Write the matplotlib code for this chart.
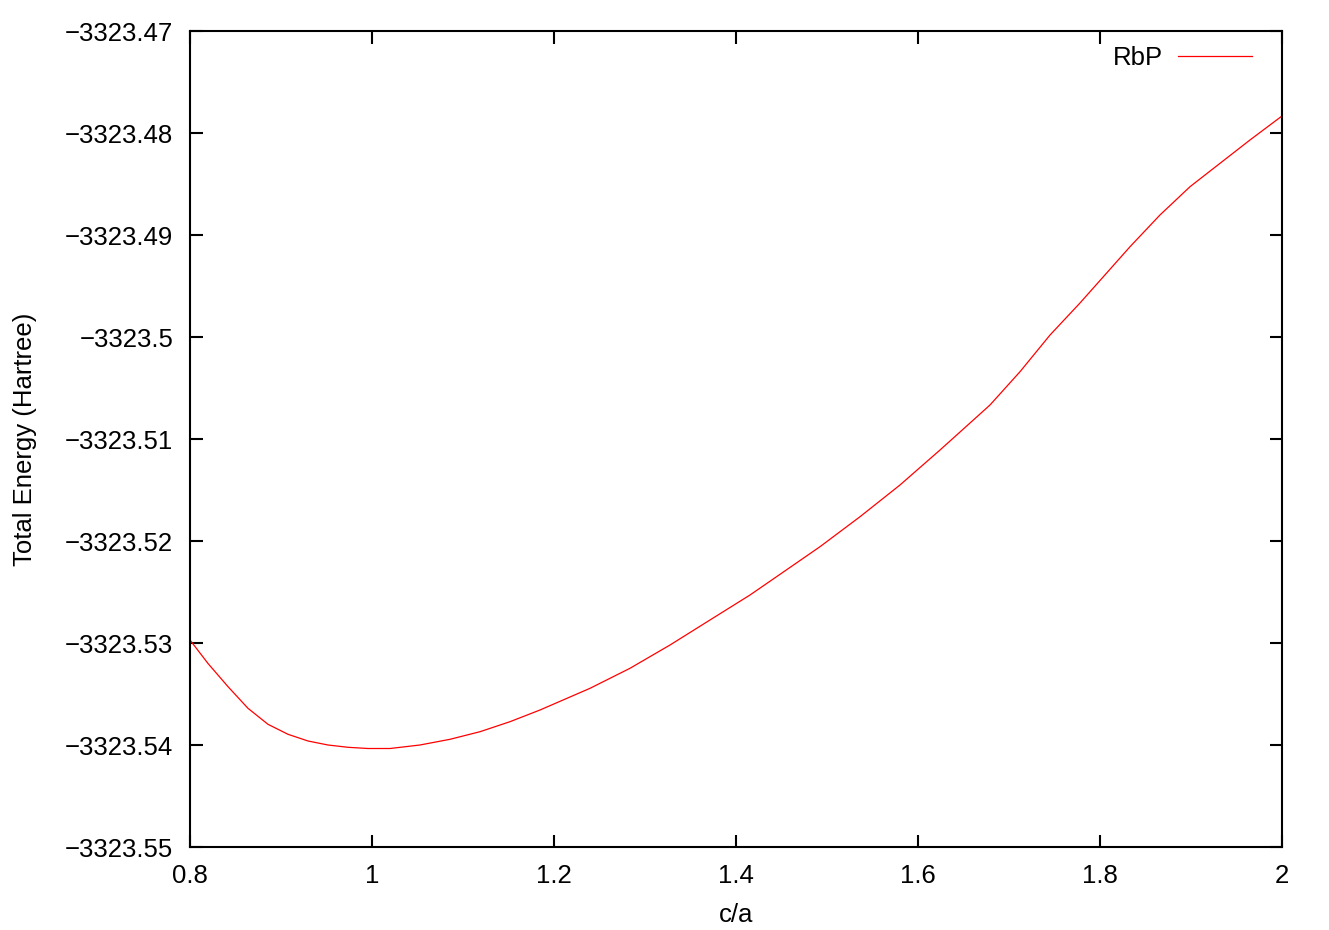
import matplotlib
matplotlib.use("Agg")
import matplotlib.pyplot as plt
from matplotlib.ticker import FuncFormatter, MultipleLocator

# Data
c_over_a = [0.8000, 0.8198, 0.8418, 0.8637, 0.8857, 0.9077, 0.9297, 0.9516,
            0.9736, 0.9956, 1.0198, 1.0527, 1.0857, 1.1187, 1.1516, 1.1846,
            1.2396, 1.2835, 1.3275, 1.3714, 1.4154, 1.4484, 1.4923, 1.5363,
            1.5802, 1.6242, 1.6462, 1.6791, 1.7121, 1.7451, 1.7780, 1.8000,
            1.8330, 1.8659, 1.8989, 1.9319, 1.9648, 2.0000]
energy = [-3323.529706, -3323.532010, -3323.534284, -3323.536402, -3323.537971,
          -3323.538951, -3323.539608, -3323.540000, -3323.540225, -3323.540343,
          -3323.540343, -3323.540000, -3323.539441, -3323.538696, -3323.537716,
          -3323.536569, -3323.534441, -3323.532480, -3323.530196, -3323.527745,
          -3323.525294, -3323.523265, -3323.520559, -3323.517618, -3323.514510,
          -3323.511078, -3323.509314, -3323.506667, -3323.503402, -3323.499804,
          -3323.496667, -3323.494461, -3323.491147, -3323.488039, -3323.485265,
          -3323.482971, -3323.480686, -3323.478333]
series_label = "RbP"

plt.rcParams['font.family'] = ['Liberation Sans', 'DejaVu Sans']
plt.rcParams['axes.unicode_minus'] = True

fig = plt.figure(figsize=(13.29, 9.30), dpi=100)
ax = fig.add_axes([190/1329, 83/930, (1282-190)/1329, (847-31)/930])

ax.plot(c_over_a, energy, color='#ff0000', linewidth=0.9, label=series_label)

ax.set_xlim(0.8, 2.0)
ax.set_ylim(-3323.55, -3323.47)
ax.xaxis.set_major_locator(MultipleLocator(0.2))
ax.yaxis.set_major_locator(MultipleLocator(0.01))

def fmt_x(v, pos):
    return ('%g' % round(v, 6)).replace('-', '\u2212')

def fmt_y(v, pos):
    s = ('%.2f' % v).rstrip('0').rstrip('.')
    return s.replace('-', '\u2212')

ax.xaxis.set_major_formatter(FuncFormatter(fmt_x))
ax.yaxis.set_major_formatter(FuncFormatter(fmt_y))

ax.tick_params(direction='in', length=9, width=1.5, top=True, right=True,
               labelsize=18.5, pad=12)
for s in ax.spines.values():
    s.set_linewidth(1.5)

ax.set_xlabel('c/a', fontsize=18.5, labelpad=11)
ax.set_ylabel('Total Energy (Hartree)', fontsize=18.5, labelpad=20)

ax.legend(loc='upper right', frameon=False, markerfirst=False, fontsize=18.5,
          handlelength=2.85, handletextpad=0.6, borderaxespad=0.0,
          bbox_to_anchor=(1 - 20/1092, 1 - 5/816))

fig.savefig('out.png', dpi=100)
